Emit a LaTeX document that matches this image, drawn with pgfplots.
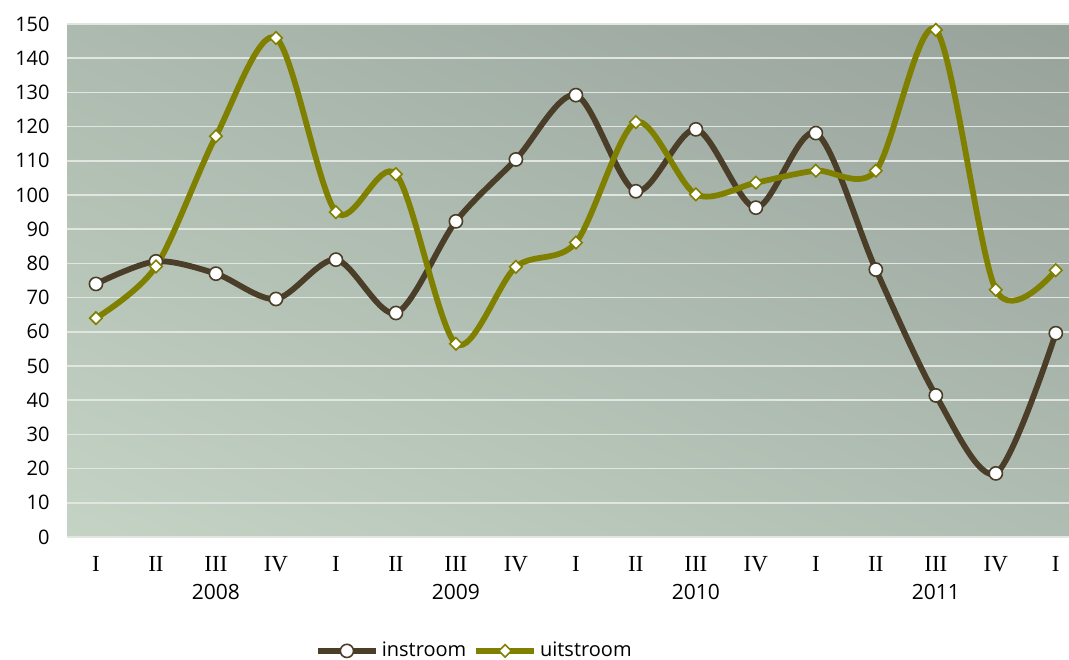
\documentclass[border=0pt]{standalone}
\usepackage{pgfplots}
\pgfplotsset{compat=1.18}
\usepackage{fontspec}
\setmainfont{Open Sans}
\newfontfamily\romanfont{Liberation Serif}
\usetikzlibrary{calc,shadings}
\definecolor{instr}{RGB}{74,62,40}
\definecolor{uitstr}{RGB}{128,128,0}
\definecolor{gridc}{RGB}{226,230,224}
\definecolor{bgll}{RGB}{197,211,197}
\definecolor{bgul}{RGB}{172,186,175}
\definecolor{bgur}{RGB}{151,162,155}
\definecolor{bglr}{RGB}{176,189,178}
\begin{document}
\begin{tikzpicture}
\begin{axis}[
  width=501pt, height=256.5pt, scale only axis,
  xmin=-0.483, xmax=16.22, ymin=0, ymax=150,
  axis line style={draw=none},
  ytick={0,10,...,150},
  ymajorgrids, grid style={gridc, line width=0.8pt},
  xtick={0,...,16},
  xticklabels={I,II,III,IV,I,II,III,IV,I,II,III,IV,I,II,III,IV,I},
  major tick length=0pt,
  xticklabel style={font=\romanfont\fontsize{11.5}{13}\selectfont, anchor=center, inner sep=0pt, yshift=-13.5pt},
  yticklabel style={font=\fontsize{10}{12}\selectfont, anchor=east, inner sep=0pt, xshift=-8.5pt},
  /pgf/number format/assume math mode=true,
  axis background/.style={shade, lower left=bgll, upper left=bgul, upper right=bgur, lower right=bglr},
  clip=false,
  legend columns=2,
  legend style={draw=none, fill=none, at={(0.407,-0.222)}, anchor=center,
    font=\fontsize{10}{12}\selectfont, column sep=0pt, nodes={inner xsep=1.5pt},
    /tikz/every even column/.append style={column sep=2pt}},
  legend image code/.code={\draw[mark repeat=2,mark phase=2] plot coordinates {(0pt,0pt) (14.5pt,0pt) (29pt,0pt)};},
]
\addplot[instr, line width=2.9pt, smooth, mark=*, mark size=3.3pt,
  mark options={fill=white, draw=instr, line width=0.8pt}]
  coordinates {(0,74) (1,80.6) (2,77) (3,69.6) (4,81.1) (5,65.5) (6,92.3) (7,110.4) (8,129.2) (9,101.1) (10,119.2) (11,96.3) (12,118.1) (13,78.2) (14,41.4) (15,18.6) (16,59.6)};
\addlegendentry{instroom}
\addplot[uitstr, line width=2.9pt, smooth, mark=square*, mark size=2.2pt,
  mark options={fill=white, draw=uitstr, line width=0.8pt, rotate=45}]
  coordinates {(0,64) (1,79.1) (2,117.2) (3,145.9) (4,95) (5,106.1) (6,56.5) (7,79) (8,86.1) (9,121.3) (10,100.2) (11,103.6) (12,107.1) (13,107.1) (14,148.3) (15,72.3) (16,78)};
\addlegendentry{uitstroom}
\node[font=\fontsize{10.5}{12}\selectfont] at ([yshift=-27.5pt]axis cs:2,0) {2008};
\node[font=\fontsize{10.5}{12}\selectfont] at ([yshift=-27.5pt]axis cs:6,0) {2009};
\node[font=\fontsize{10.5}{12}\selectfont] at ([yshift=-27.5pt]axis cs:10,0) {2010};
\node[font=\fontsize{10.5}{12}\selectfont] at ([yshift=-27.5pt]axis cs:14,0) {2011};
\end{axis}
\pgfresetboundingbox
\path[use as bounding box] ($(current axis.south west)+(-33.5pt,-61pt)$) rectangle ($(current axis.north east)+(0pt,12pt)$);
\end{tikzpicture}
\end{document}
